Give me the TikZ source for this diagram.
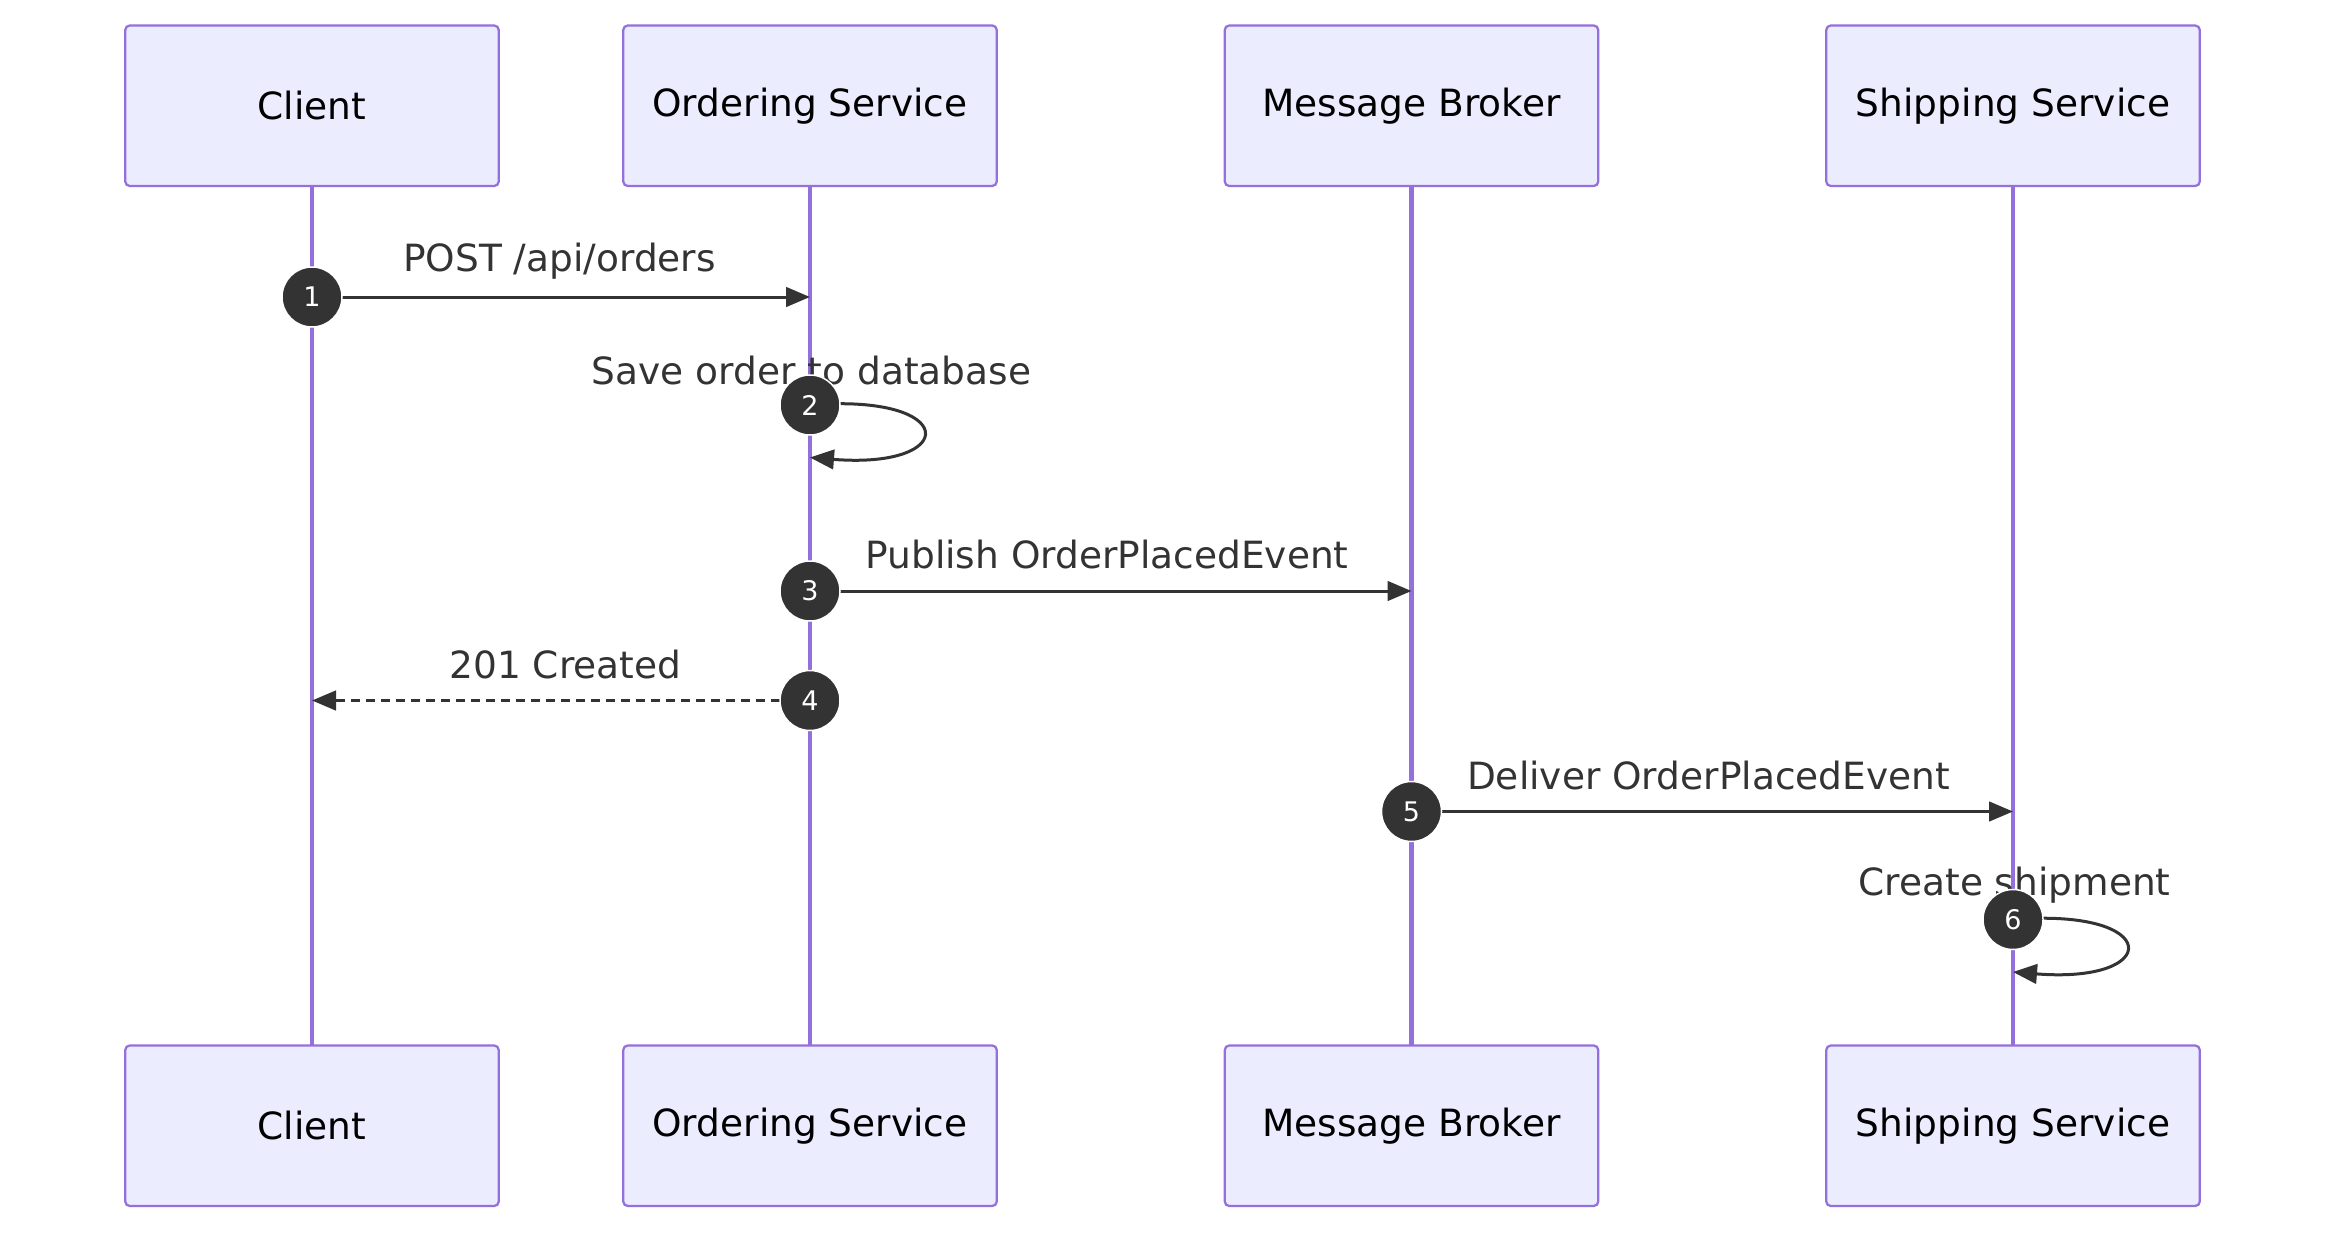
\documentclass[tikz,border=0pt]{standalone}
\usepackage{fontspec}
\setmainfont{DejaVu Sans}
\usetikzlibrary{arrows.meta}
\definecolor{boxfill}{HTML}{ECECFF}
\definecolor{boxline}{HTML}{9370DB}
\definecolor{ink}{HTML}{333333}
\tikzset{
  actor/.style={draw=boxline,fill=boxfill,line width=1.5pt,rounded corners=3pt,minimum width=249pt,minimum height=107pt,font=\fontsize{25}{30}\selectfont,text=black},
  life/.style={draw=boxline,line width=3pt},
  msg/.style={draw=ink,line width=2pt,-{Triangle[length=16pt,width=13pt]}},
  lbl/.style={font=\fontsize{25}{30}\selectfont,text=ink},
  num/.style={circle,fill=ink,draw=white,line width=1pt,minimum size=40pt,inner sep=0pt,text=white,font=\fontsize{18}{20}\selectfont}
}
\begin{document}
\begin{tikzpicture}[x=1pt,y=-1pt]
\useasboundingbox (0,0) rectangle (1568,832);
\foreach \n/\x/\t in {c/208/Client,o/540/Ordering Service,m/941/Message Broker,s/1342/Shipping Service}{
  \draw[life] (\x,124) -- (\x,697);
  \node[actor] (\n t) at (\x,70.5) {\t};
  \node[actor] (\n b) at (\x,750.5) {\t};
}
\coordinate (c1) at (208,198); \coordinate (o1) at (540,198);
\draw[msg] (c1) -- (o1);
\node[lbl] (l1) at (373,174) {POST /api/orders};
\coordinate (o2) at (540,270); \coordinate (o2e) at (540,305);
\draw[msg] (o2) .. controls (640,262) and (640,313) .. (o2e);
\node[lbl] (l2) at (541,247) {Save order to database};
\coordinate (o3) at (540,394); \coordinate (m3) at (941,394);
\draw[msg] (o3) -- (m3);
\node[lbl] (l3) at (738,370) {Publish OrderPlacedEvent};
\coordinate (o4) at (540,467); \coordinate (c4) at (208,467);
\draw[msg,dash pattern=on 6pt off 4pt] (o4) -- (c4);
\node[lbl] (l4) at (377,443) {201 Created};
\coordinate (m5) at (941,541); \coordinate (s5) at (1342,541);
\draw[msg] (m5) -- (s5);
\node[lbl] (l5) at (1139,517) {Deliver OrderPlacedEvent};
\coordinate (s6) at (1342,613); \coordinate (s6e) at (1342,648);
\draw[msg] (s6) .. controls (1442,605) and (1442,656) .. (s6e);
\node[lbl] (l6) at (1343,590) {Create shipment};
\node[num] (n1) at (208,198) {1};
\node[num] (n2) at (540,270) {2};
\node[num] (n3) at (540,394) {3};
\node[num] (n4) at (540,467) {4};
\node[num] (n5) at (941,541) {5};
\node[num] (n6) at (1342,613) {6};
\end{tikzpicture}
\end{document}
